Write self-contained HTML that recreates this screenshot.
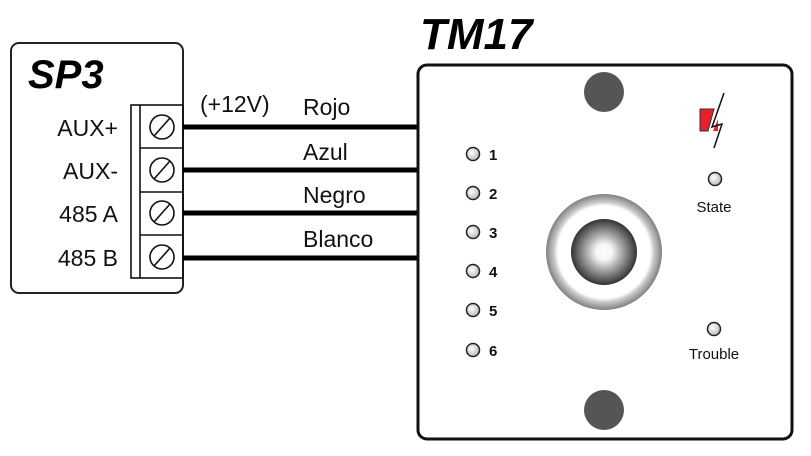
<!DOCTYPE html>
<html><head><style>body{margin:0;background:#fff}svg{display:block}</style></head><body>
<svg width="811" height="456" viewBox="0 0 811 456" xmlns="http://www.w3.org/2000/svg" font-family="Liberation Sans, sans-serif">
<defs>
<radialGradient id="ball" cx="0.5" cy="0.5" r="0.5"><stop offset="0" stop-color="#fff"/><stop offset="0.25" stop-color="#f4f4f4"/><stop offset="0.6" stop-color="#999"/><stop offset="1" stop-color="#333"/></radialGradient>
<radialGradient id="ring" cx="0.5" cy="0.5" r="0.5"><stop offset="0.6" stop-color="#fff"/><stop offset="0.8" stop-color="#fff"/><stop offset="0.86" stop-color="#ccc"/><stop offset="1" stop-color="#808080"/></radialGradient>
<radialGradient id="led" cx="0.4" cy="0.4" r="0.6"><stop offset="0" stop-color="#fff"/><stop offset="1" stop-color="#bbb"/></radialGradient>
</defs>
<rect x="11" y="43" width="172" height="250" rx="8" fill="#fff" stroke="#222" stroke-width="2"/>
<text x="28" y="88" font-size="40" font-weight="bold" font-style="italic">SP3</text>
<g stroke="#111" stroke-width="1.6" fill="none">
<rect x="131" y="105" width="52" height="173"/>
<line x1="140" y1="105" x2="140" y2="278"/>
<line x1="140" y1="148" x2="183" y2="148"/><line x1="140" y1="192" x2="183" y2="192"/><line x1="140" y1="235" x2="183" y2="235"/>
<circle cx="162" cy="127" r="12"/><line x1="154" y1="136" x2="170" y2="118"/>
<circle cx="162" cy="170" r="12"/><line x1="154" y1="179" x2="170" y2="161"/>
<circle cx="162" cy="213" r="12"/><line x1="154" y1="222" x2="170" y2="204"/>
<circle cx="162" cy="257" r="12"/><line x1="154" y1="266" x2="170" y2="248"/>
</g>
<g font-size="23" text-anchor="end" fill="#111">
<text x="118" y="136">AUX+</text><text x="118" y="179">AUX-</text><text x="118" y="222">485 A</text><text x="118" y="266">485 B</text>
</g>
<g stroke="#000" stroke-width="5">
<line x1="183" y1="127" x2="418" y2="127"/><line x1="183" y1="170" x2="418" y2="170"/><line x1="183" y1="213" x2="418" y2="213"/><line x1="183" y1="258" x2="418" y2="258"/>
</g>
<g font-size="23" fill="#111">
<text x="200" y="112">(+12V)</text><text x="303" y="115">Rojo</text><text x="303" y="160">Azul</text><text x="303" y="203">Negro</text><text x="303" y="247">Blanco</text>
</g>
<text x="420" y="49" font-size="44" font-weight="bold" font-style="italic">TM17</text>
<rect x="418" y="65" width="374" height="374" rx="9" fill="#fff" stroke="#111" stroke-width="3"/>
<circle cx="604" cy="92" r="20" fill="#555"/><circle cx="604" cy="410" r="20" fill="#555"/>
<g stroke="#222" stroke-width="1.5" fill="url(#led)">
<circle cx="473" cy="154" r="6.5"/><circle cx="473" cy="193" r="6.5"/><circle cx="473" cy="232" r="6.5"/><circle cx="473" cy="271" r="6.5"/><circle cx="473" cy="310" r="6.5"/><circle cx="473" cy="350" r="6.5"/>
<circle cx="715" cy="179" r="6.5"/><circle cx="714" cy="329" r="6.5"/>
</g>
<g font-size="15" font-weight="bold" fill="#111">
<text x="489" y="160">1</text><text x="489" y="199">2</text><text x="489" y="238">3</text><text x="489" y="277">4</text><text x="489" y="316">5</text><text x="489" y="356">6</text>
</g>
<g font-size="15" fill="#111" text-anchor="middle"><text x="714" y="212">State</text><text x="714" y="359">Trouble</text></g>
<circle cx="604" cy="252" r="58" fill="url(#ring)"/>
<circle cx="604" cy="252" r="33" fill="url(#ball)"/>
<polygon points="700,109 714,109 708,131 700,131" fill="#e8202a" stroke="#333" stroke-width="1"/>
<polygon points="713,131 718,119 718,131" fill="#e8202a"/>
<polyline points="724,93 712,127 722,124 714,148" fill="none" stroke="#111" stroke-width="1.5"/>
</svg>
</body></html>
